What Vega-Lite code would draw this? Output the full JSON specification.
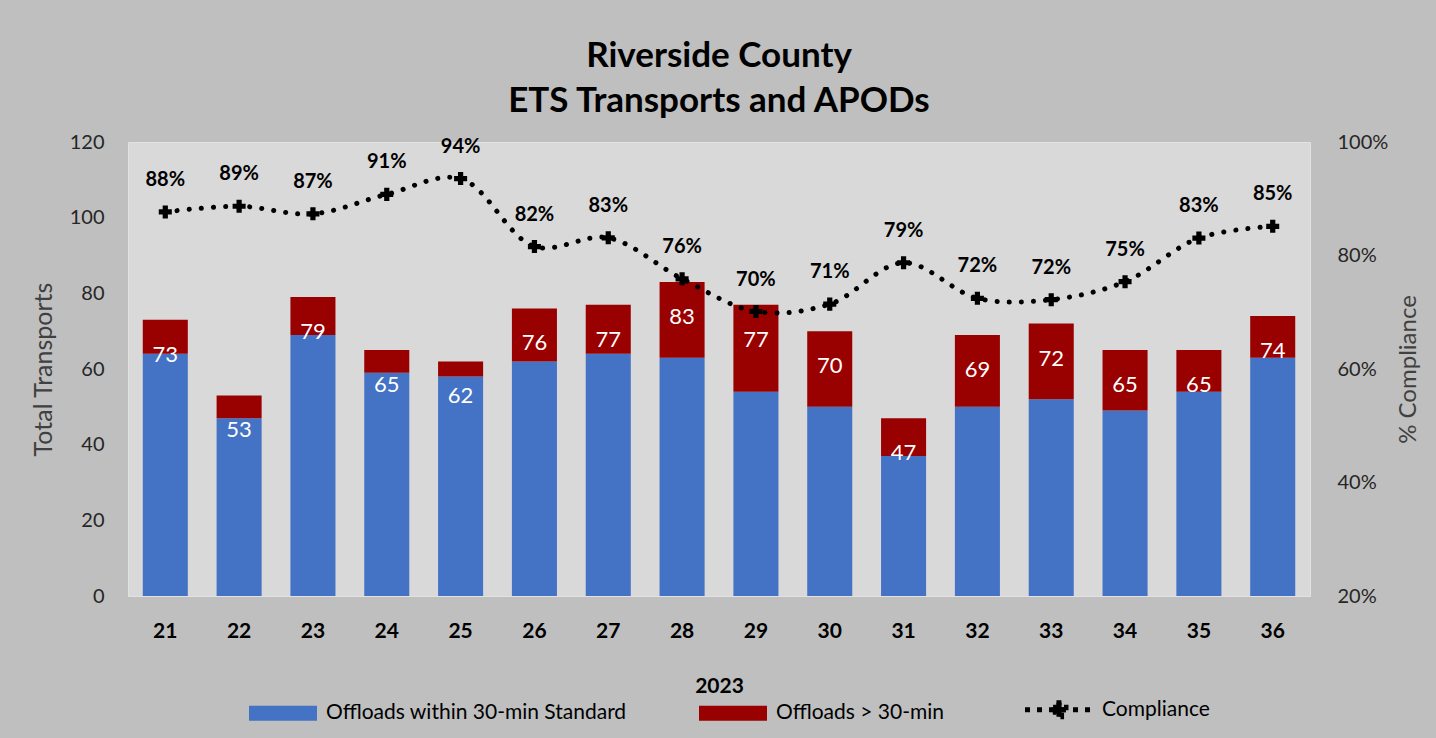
{
  "$schema": "https://vega.github.io/schema/vega-lite/v6.json",
  "autosize": {"type": "none"},
  "width": 1182,
  "height": 454,
  "padding": {"left": 128, "top": 142, "right": 126, "bottom": 142},
  "background": "#bfbfbf",
  "title": {
    "text": ["Riverside County", "ETS Transports and APODs"],
    "font": "Lato",
    "fontSize": 35,
    "fontWeight": "bold",
    "color": "#000000",
    "lineHeight": 45,
    "anchor": "middle",
    "offset": 13
  },
  "config": {
    "view": {"fill": "#d9d9d9", "stroke": "#e2e2e2"},
    "font": "Lato",
    "axis": {"grid": false, "ticks": false, "domain": false, "labelFont": "Lato", "titleFont": "Lato"},
    "legend": {"labelFont": "Lato"}
  },
  "datasets": {
    "bars": [
      {"week": "21", "series": "Offloads within 30-min Standard", "count": 64},
      {"week": "21", "series": "Offloads > 30-min", "count": 9},
      {"week": "22", "series": "Offloads within 30-min Standard", "count": 47},
      {"week": "22", "series": "Offloads > 30-min", "count": 6},
      {"week": "23", "series": "Offloads within 30-min Standard", "count": 69},
      {"week": "23", "series": "Offloads > 30-min", "count": 10},
      {"week": "24", "series": "Offloads within 30-min Standard", "count": 59},
      {"week": "24", "series": "Offloads > 30-min", "count": 6},
      {"week": "25", "series": "Offloads within 30-min Standard", "count": 58},
      {"week": "25", "series": "Offloads > 30-min", "count": 4},
      {"week": "26", "series": "Offloads within 30-min Standard", "count": 62},
      {"week": "26", "series": "Offloads > 30-min", "count": 14},
      {"week": "27", "series": "Offloads within 30-min Standard", "count": 64},
      {"week": "27", "series": "Offloads > 30-min", "count": 13},
      {"week": "28", "series": "Offloads within 30-min Standard", "count": 63},
      {"week": "28", "series": "Offloads > 30-min", "count": 20},
      {"week": "29", "series": "Offloads within 30-min Standard", "count": 54},
      {"week": "29", "series": "Offloads > 30-min", "count": 23},
      {"week": "30", "series": "Offloads within 30-min Standard", "count": 50},
      {"week": "30", "series": "Offloads > 30-min", "count": 20},
      {"week": "31", "series": "Offloads within 30-min Standard", "count": 37},
      {"week": "31", "series": "Offloads > 30-min", "count": 10},
      {"week": "32", "series": "Offloads within 30-min Standard", "count": 50},
      {"week": "32", "series": "Offloads > 30-min", "count": 19},
      {"week": "33", "series": "Offloads within 30-min Standard", "count": 52},
      {"week": "33", "series": "Offloads > 30-min", "count": 20},
      {"week": "34", "series": "Offloads within 30-min Standard", "count": 49},
      {"week": "34", "series": "Offloads > 30-min", "count": 16},
      {"week": "35", "series": "Offloads within 30-min Standard", "count": 54},
      {"week": "35", "series": "Offloads > 30-min", "count": 11},
      {"week": "36", "series": "Offloads within 30-min Standard", "count": 63},
      {"week": "36", "series": "Offloads > 30-min", "count": 11}
    ],
    "weeks": [
      {"week": "21", "total": 73, "compliance": 0.8767},
      {"week": "22", "total": 53, "compliance": 0.8868},
      {"week": "23", "total": 79, "compliance": 0.8734},
      {"week": "24", "total": 65, "compliance": 0.9077},
      {"week": "25", "total": 62, "compliance": 0.9355},
      {"week": "26", "total": 76, "compliance": 0.8158},
      {"week": "27", "total": 77, "compliance": 0.8312},
      {"week": "28", "total": 83, "compliance": 0.7590},
      {"week": "29", "total": 77, "compliance": 0.7013},
      {"week": "30", "total": 70, "compliance": 0.7143},
      {"week": "31", "total": 47, "compliance": 0.7872},
      {"week": "32", "total": 69, "compliance": 0.7246},
      {"week": "33", "total": 72, "compliance": 0.7222},
      {"week": "34", "total": 65, "compliance": 0.7538},
      {"week": "35", "total": 65, "compliance": 0.8308},
      {"week": "36", "total": 74, "compliance": 0.8514}
    ]
  },
  "layer": [
    {
      "layer": [
        {
          "data": {"name": "bars"},
          "mark": {"type": "bar"},
          "encoding": {
            "x": {
              "field": "week", "type": "ordinal",
              "scale": {"paddingInner": 0.39, "paddingOuter": 0.2},
              "axis": {
                "title": "2023", "titleFontSize": 21, "titleFontWeight": "bold", "titleColor": "#000000", "titlePadding": 34,
                "labelAngle": 0, "labelFontSize": 21, "labelFontWeight": "bold", "labelColor": "#000000", "labelPadding": 24
              }
            },
            "y": {
              "field": "count", "type": "quantitative", "stack": "zero",
              "scale": {"domain": [0, 120], "nice": false},
              "axis": {
                "title": "Total  Transports", "titleFontSize": 25, "titleFontWeight": "normal", "titleColor": "#404040", "titlePadding": 13,
                "values": [0, 20, 40, 60, 80, 100, 120], "labelFontSize": 20, "labelColor": "#262626", "labelPadding": 24
              }
            },
            "color": {
              "field": "series", "type": "nominal",
              "scale": {
                "domain": ["Offloads within 30-min Standard", "Offloads > 30-min", "Compliance"],
                "range": ["#4472c4", "#990000", "#000000"]
              },
              "legend": {
                "title": null, "orient": "none", "direction": "horizontal",
                "legendX": 119, "legendY": 557, "padding": 0,
                "labelFontSize": 21, "labelColor": "#000000", "labelOffset": 58, "labelLimit": 0,
                "columnPadding": 70, "symbolSize": 289,
                "symbolType": {"expr": "datum.value == 'Compliance' ? 'M-1,0L7,0M2.7,-0.82L3.3,-0.82L3.3,-0.3L3.82,-0.3L3.82,0.3L3.3,0.3L3.3,0.82L2.7,0.82L2.7,0.3L2.18,0.3L2.18,-0.3L2.7,-0.3Z' : 'M-1,-0.88L7,-0.88L7,0.88L-1,0.88Z'"},
                "symbolStrokeColor": "#000000",
                "symbolStrokeWidth": {"expr": "datum.value == 'Compliance' ? 5 : 0"},
                "symbolDash": {"expr": "datum.value == 'Compliance' ? [5, 7] : [1, 0]"}
              }
            },
            "order": {"field": "series", "sort": "descending"}
          }
        },
        {
          "data": {"name": "weeks"},
          "mark": {"type": "text", "color": "#ffffff", "fontSize": 22, "dy": 35, "baseline": "middle", "font": "Lato"},
          "encoding": {
            "x": {"field": "week", "type": "ordinal"},
            "y": {"field": "total", "type": "quantitative"},
            "text": {"field": "total", "type": "quantitative"}
          }
        }
      ]
    },
    {
      "data": {"name": "weeks"},
      "layer": [
        {
          "mark": {"type": "line", "color": "#000000", "strokeWidth": 5, "strokeDash": [0.1, 12], "strokeCap": "round", "interpolate": "catmull-rom"},
          "encoding": {
            "x": {"field": "week", "type": "ordinal"},
            "y": {
              "field": "compliance", "type": "quantitative",
              "scale": {"domain": [0.2, 1.0], "nice": false},
              "axis": {
                "orient": "right", "format": ".0%", "values": [0.2, 0.4, 0.6, 0.8, 1.0],
                "title": "% Compliance", "titleFontSize": 24, "titleFontWeight": "normal", "titleColor": "#404040", "titleAngle": 270, "titlePadding": 33,
                "labelFontSize": 20, "labelColor": "#262626", "labelPadding": 27
              }
            }
          }
        },
        {
          "mark": {"type": "point", "shape": "cross", "filled": true, "color": "#000000", "size": 170, "opacity": 1},
          "encoding": {
            "x": {"field": "week", "type": "ordinal"},
            "y": {"field": "compliance", "type": "quantitative"}
          }
        },
        {
          "mark": {"type": "text", "color": "#000000", "fontSize": 20, "fontWeight": "bold", "dy": -32, "baseline": "middle", "font": "Lato"},
          "encoding": {
            "x": {"field": "week", "type": "ordinal"},
            "y": {"field": "compliance", "type": "quantitative"},
            "text": {"field": "compliance", "type": "quantitative", "format": ".0%"}
          }
        }
      ]
    }
  ],
  "resolve": {"scale": {"y": "independent"}}
}
